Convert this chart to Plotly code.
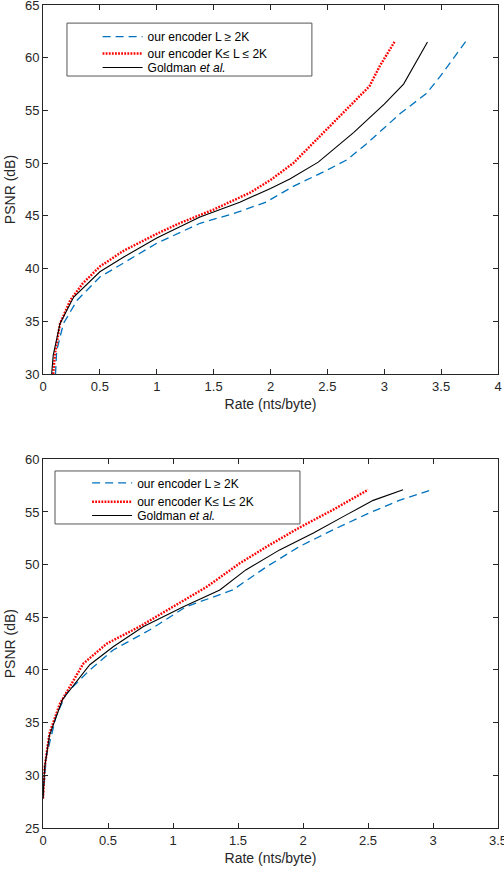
import plotly.graph_objects as go

# ---------------- data (top chart) ----------------
top_blue_x = [0.11, 0.12, 0.18, 0.30, 0.50, 0.79, 1.00, 1.38, 1.67, 1.96, 2.20, 2.49, 2.67, 2.84, 3.14, 3.37, 3.49, 3.72]
top_blue_y = [30.0, 32.2, 34.8, 37.0, 39.2, 41.1, 42.4, 44.3, 45.2, 46.3, 47.8, 49.3, 50.3, 51.8, 54.7, 56.6, 58.2, 61.6]

top_red_x = [0.09, 0.105, 0.15, 0.24, 0.35, 0.50, 0.71, 1.00, 1.20, 1.50, 1.82, 2.00, 2.20, 2.43, 2.64, 2.87, 2.96, 3.09]
top_red_y = [30.0, 31.9, 34.8, 37.0, 38.6, 40.2, 41.7, 43.3, 44.3, 45.6, 47.2, 48.4, 50.0, 52.5, 54.7, 57.3, 59.2, 61.5]

top_black_x = [0.076, 0.09, 0.15, 0.27, 0.50, 0.71, 1.00, 1.38, 1.73, 2.00, 2.17, 2.42, 2.73, 3.00, 3.17, 3.38]
top_black_y = [30.0, 31.8, 34.8, 37.3, 39.7, 41.1, 42.9, 44.9, 46.3, 47.6, 48.5, 50.1, 52.9, 55.6, 57.5, 61.5]

# ---------------- data (bottom chart) ----------------
bot_blue_x = [0.0, 0.026, 0.10, 0.18, 0.36, 0.54, 0.82, 1.10, 1.46, 1.72, 1.97, 2.23, 2.49, 2.74, 2.99]
bot_blue_y = [27.8, 31.8, 35.6, 37.8, 40.0, 41.9, 43.8, 46.0, 47.6, 49.8, 51.7, 53.3, 54.8, 56.1, 57.1]

bot_red_x = [0.0, 0.013, 0.05, 0.13, 0.31, 0.49, 0.74, 1.00, 1.26, 1.51, 1.72, 1.97, 2.23, 2.50]
bot_red_y = [27.8, 30.8, 34.0, 36.8, 40.6, 42.5, 44.1, 46.0, 47.9, 50.1, 51.7, 53.5, 55.2, 57.1]

bot_black_x = [0.0, 0.013, 0.05, 0.15, 0.36, 0.54, 0.77, 1.08, 1.36, 1.56, 1.82, 2.08, 2.33, 2.54, 2.77]
bot_black_y = [27.8, 30.8, 33.8, 37.2, 40.5, 42.2, 44.1, 46.0, 47.6, 49.5, 51.4, 53.0, 54.7, 56.1, 57.1]

names_top = ["our encoder L \u2265 2K", "our encoder K\u2264 L \u2264 2K", "Goldman <i>et al.</i>"]
names_bot = ["our encoder L \u2265 2K", "our encoder K\u2264 L\u2264 2K", "Goldman <i>et al.</i>"]

BLUE = "#0072BD"
RED = "#FF0000"
BLACK = "#000000"
TXT = "#262626"
FONT = "Liberation Sans, Arial, sans-serif"

fig = go.Figure()

styles = [dict(color=BLUE, width=1.3, dash="8px,5px"),
          dict(color=RED, width=2.4, dash="1.8px,1.3px"),
          dict(color=BLACK, width=1.1)]

top_sets = [(top_blue_x, top_blue_y), (top_red_x, top_red_y), (top_black_x, top_black_y)]
bot_sets = [(bot_blue_x, bot_blue_y), (bot_red_x, bot_red_y), (bot_black_x, bot_black_y)]

for i, ((xs, ys), nm, st) in enumerate(zip(top_sets, names_top, styles)):
    fig.add_trace(go.Scatter(x=xs, y=ys, mode="lines", name=nm, line=st,
                             xaxis="x", yaxis="y", showlegend=True,
                             legend="legend" if i == 0 else f"legend{i + 1}"))

for i, ((xs, ys), nm, st) in enumerate(zip(bot_sets, names_bot, styles)):
    fig.add_trace(go.Scatter(x=xs, y=ys, mode="lines", name=nm, line=st,
                             xaxis="x2", yaxis="y2", showlegend=True,
                             legend=f"legend{i + 4}"))

axis_common = dict(showline=True, linecolor=TXT, linewidth=1, mirror="ticks",
                   ticks="inside", ticklen=5, tickcolor=TXT, tickwidth=1,
                   showgrid=False, zeroline=False, automargin=False,
                   ticklabeloverflow="allow",
                   tickfont=dict(family=FONT, size=13, color=TXT))

def ttl(t):
    return dict(text=t, font=dict(family=FONT, size=14, color=TXT), standoff=6)

def leg(x, y):
    return dict(x=x, y=y, xanchor="left", yanchor="top",
                bgcolor="rgba(0,0,0,0)", borderwidth=0, itemwidth=40,
                font=dict(family=FONT, size=12, color="#000000"), tracegroupgap=0)

top_leg_y = [0.9793, 0.9587, 0.9416]
bot_leg_y = [0.4370, 0.4140, 0.3973]

layout_legends = {}
for i, yv in enumerate(top_leg_y):
    layout_legends["legend" if i == 0 else f"legend{i + 1}"] = leg(0.12, yv)
for i, yv in enumerate(bot_leg_y):
    layout_legends[f"legend{i + 4}"] = leg(0.097, yv)

fig.update_layout(
    width=504, height=879,
    showlegend=True,
    margin=dict(l=43, r=6, t=5, b=51),
    paper_bgcolor="white", plot_bgcolor="white",
    font=dict(family=FONT, color=TXT),
    xaxis=dict(domain=[0, 1], anchor="y", range=[0, 4], dtick=0.5,
               title=ttl("Rate (nts/byte)"), **axis_common),
    yaxis=dict(domain=[0.5516, 1.0], anchor="x", range=[30, 65], dtick=5,
               title=ttl("PSNR (dB)"), **axis_common),
    xaxis2=dict(domain=[0, 1], anchor="y2", range=[0, 3.5], dtick=0.5,
                title=ttl("Rate (nts/byte)"), **axis_common),
    yaxis2=dict(domain=[0, 0.448], anchor="x2", range=[25, 60], dtick=5,
                title=ttl("PSNR (dB)"), **axis_common),
    shapes=[
        dict(type="rect", xref="paper", yref="paper", x0=0.0527, x1=0.591, y0=0.9137, y1=0.978,
             line=dict(color="#555555", width=1), fillcolor="white", layer="above"),
        dict(type="rect", xref="paper", yref="paper", x0=0.0264, x1=0.5648, y0=0.3694, y1=0.4338,
             line=dict(color="#555555", width=1), fillcolor="white", layer="above"),
    ],
    **layout_legends,
)

fig.write_html("out.html")
